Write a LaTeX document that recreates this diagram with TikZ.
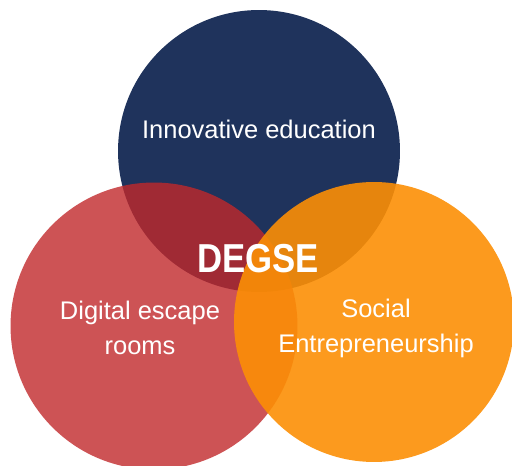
\documentclass[tikz,border=0pt]{standalone}
\usepackage{fontspec}
\setmainfont{Liberation Sans}
\usepackage{xcolor}

\definecolor{navy}{RGB}{31,51,92}
\definecolor{brick}{RGB}{193,40,43}
\definecolor{amber}{RGB}{252,143,5}

\tikzset{
	set/.style={circle, inner sep=0pt},
	setlabel/.style={text=white, align=center, font=\fontsize{14.5}{20}\selectfont},
}

\begin{document}
\begin{tikzpicture}[x=0.02cm, y=-0.02cm]
	\clip (0,0) rectangle (512,466);

	% the three sets
	\node[set, fill=navy, minimum size=5.64cm] (edu) at (259,151) {};
	\node[set, fill=brick, fill opacity=0.8, minimum size=5.74cm] (escape) at (154,326) {};
	\node[set, fill=amber, fill opacity=0.9, minimum size=5.6cm] (social) at (374,322) {};

	% labels
	\node[setlabel, anchor=base] (edutext) at (259,139) {Innovative education};
	\node[setlabel] (escapetext) at (140,328) {Digital escape\\rooms};
	\node[setlabel] (socialtext) at (376,328) {Social\\Entrepreneurship};
	\node[text=white, font=\fontsize{23}{23}\selectfont\bfseries, anchor=base] (degse) at (258,273) {\scalebox{0.86}[1]{DEGSE}};
\end{tikzpicture}
\end{document}
